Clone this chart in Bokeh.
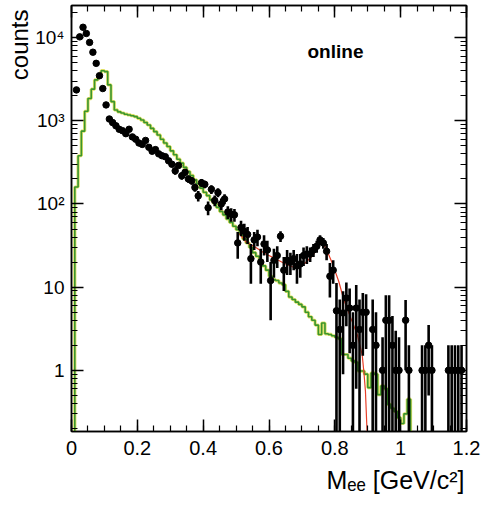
import numpy as np
from bokeh.plotting import figure
from bokeh.models import (FixedTicker, CustomJSTickFormatter, LinearAxis, LogAxis,
                          Label, ColumnDataSource, Range1d, Title)
from bokeh.embed import file_html
from bokeh.resources import INLINE

# ---------------- data ----------------
mass = [0.015, 0.025, 0.035, 0.045, 0.055, 0.065, 0.075, 0.085, 0.095, 0.105,
        0.115, 0.125, 0.135, 0.145, 0.155, 0.165, 0.175, 0.185, 0.195, 0.205,
        0.215, 0.225, 0.235, 0.245, 0.255, 0.265, 0.275, 0.285, 0.295, 0.305,
        0.315, 0.325, 0.335, 0.345, 0.355, 0.365, 0.375, 0.385, 0.395, 0.405,
        0.415, 0.425, 0.435, 0.445, 0.455, 0.465, 0.475, 0.485, 0.495, 0.505,
        0.515, 0.525, 0.535, 0.545, 0.555, 0.565, 0.575, 0.585, 0.595, 0.605,
        0.615, 0.625, 0.635, 0.645, 0.655, 0.665, 0.675, 0.685, 0.695, 0.705,
        0.715, 0.725, 0.735, 0.745, 0.755, 0.765, 0.775, 0.785, 0.795, 0.805,
        0.815, 0.825, 0.835, 0.845, 0.855, 0.865, 0.875, 0.885, 0.895, 0.915,
        0.925, 0.945, 0.955, 0.965, 0.975, 0.985, 0.995, 1.015, 1.025, 1.065,
        1.075, 1.085, 1.095, 1.145, 1.155, 1.165, 1.175, 1.185]
counts = [2350, 10200, 13300, 11200, 8750, 6670, 4900, 3480, 2440, 1550,
          1050, 950, 870, 790, 760, 700, 790, 640, 600, 540,
          520, 580, 480, 430, 450, 400, 380, 370, 330, 300,
          250, 290, 218, 240, 200, 190, 158, 125, 180, 172,
          90, 150, 110, 137, 100, 115, 80, 75, 74, 34,
          52, 47, 43, 22, 37, 40, 20, 33, 28, 12,
          21, 24, 41, 16, 21, 20, 22, 18, 19, 24,
          25, 25, 28, 31, 37, 34, 27, 13.5, 16, 5.2,
          3.1, 4.9, 7.4, 5.6, 2.0, 5.6, 3.1, 5.0, 5.0, 3.1,
          2.0, 1, 4, 4, 2, 1, 1, 4, 1, 1,
          1, 2, 1, 1, 1, 1, 1, 1]
errors = [40, 100, 115, 105, 95, 80, 70, 60, 50, 40,
          35, 30, 30, 30, 30, 28, 30, 28, 26, 25,
          25, 26, 24, 22, 23, 22, 22, 22, 22, 22,
          25, 22, 22, 22, 20, 20, 18, 18, 20, 18,
          17, 18, 16, 17, 16, 16, 14, 14, 13, 12,
          11, 11, 10, 11, 9, 9, 9, 9, 8, 8,
          8, 7, 6, 7, 7, 6, 6, 7, 6, 6,
          6, 5, 5, 5, 5, 5, 6, 6, 5, 6,
          4, 4, 4, 4, 3, 5, 4, 3.5, 3.2, 4,
          3, 1.5, 4, 4, 2.5, 2, 1.5, 3, 1, 1,
          1, 1.5, 1, 1, 1, 1, 1, 1]

# simulated cocktail histogram (green), 0.01 GeV bins from 0 to 1.2
hist_values = [0, 160, 380, 750, 1300, 1850, 2400, 3100, 3600, 4000,
               3900, 2700, 1700, 1350, 1280, 1240, 1200, 1175, 1150, 1120,
               1070, 1020, 955, 890, 810, 740, 675, 600, 540, 490,
               435, 390, 345, 310, 275, 245, 220, 195, 175, 155,
               138, 126, 112, 102, 91, 81, 74, 66, 60, 54,
               49, 44, 38, 34, 30, 26, 23.5, 21, 18, 16,
               13.5, 12.3, 12, 11.2, 10.7, 8.9, 7.6, 7.1, 6.6, 6.2,
               5.8, 5.0, 4.4, 4.0, 3.5, 2.7, 3.7, 2.75, 2.7, 2.6,
               2.5, 2.4, 1.55, 1.55, 1.4, 1.3, 1.25, 0.98, 0.98, 0.9,
               0.62, 0.93, 0.9, 0.51, 0.65, 0.6, 0.39, 0.35, 0.32, 0.27,
               0.23, 0.30, 0.45, 0, 0, 0, 0, 0, 0, 0,
               0, 0, 0, 0, 0, 0, 0, 0, 0, 0]
hist_bin_width = 0.01

# fit curve (red)
fit_x = [0.51, 0.53, 0.56, 0.59, 0.62, 0.65, 0.68, 0.71, 0.735, 0.75, 0.762,
         0.777, 0.792, 0.812, 0.827, 0.848, 0.868, 0.883, 0.888, 0.893, 0.898]
fit_y = [44, 35, 30, 25, 22, 19, 17, 19.5, 24.5, 31.6, 35.5,
         27, 19.5, 11.7, 7.1, 4.3, 2.7, 1.55, 0.98, 0.56, 0.18]

x_ticks = [0, 0.2, 0.4, 0.6, 0.8, 1.0, 1.2]
y_ticks = [1, 10, 100, 1000, 10000]

# ---------------- figure ----------------
YMIN, YMAX = 0.184, 24300
p = figure(width=483, height=506, x_range=Range1d(0, 1.2), y_range=Range1d(YMIN, YMAX),
           y_axis_type="log", output_backend="svg", toolbar_location=None,
           min_border_left=71, min_border_right=17, min_border_top=5, min_border_bottom=75)
p.grid.visible = False
p.outline_line_color = "black"
p.outline_line_width = 1.5
p.background_fill_color = "white"
p.border_fill_color = "white"

font = "Liberation Sans"
x_minor = [round(0.05 * i, 2) for i in range(25)]
y_minor = [m * 10.0 ** e for e in range(-1, 5) for m in range(2, 10)]
xt = FixedTicker(ticks=x_ticks, minor_ticks=x_minor)
yt = FixedTicker(ticks=y_ticks, minor_ticks=y_minor)

xfmt = CustomJSTickFormatter(code="""
if (Math.abs(tick) < 1e-9) return "0";
if (Math.abs(tick - 1) < 1e-9) return "1";
return tick.toFixed(1);
""")
yfmt = CustomJSTickFormatter(code="""
const e = Math.round(Math.log10(tick));
if (e == 0) return "1";
if (e == 1) return "10";
const sup = {2: "\\u00b2", 3: "\\u00b3", 4: "\\u2074"};
return "10" + sup[e];
""")
blank = CustomJSTickFormatter(code='return "";')

def style_axis(ax):
    ax.major_tick_in = 12
    ax.major_tick_out = 0
    ax.minor_tick_in = 6
    ax.minor_tick_out = 0
    ax.axis_line_width = 1.5
    ax.major_tick_line_width = 1.5
    ax.minor_tick_line_width = 1.2
    ax.axis_line_color = "black"
    ax.major_tick_line_color = "black"
    ax.minor_tick_line_color = "black"

for ax in p.xaxis:
    ax.ticker = xt
    ax.formatter = xfmt
    style_axis(ax)
    ax.major_label_text_font = font
    ax.major_label_text_font_size = "20px"
    ax.major_label_text_color = "black"
    ax.major_label_standoff = 9
for ax in p.yaxis:
    ax.ticker = yt
    ax.formatter = yfmt
    style_axis(ax)
    ax.major_label_text_font = font
    ax.major_label_text_font_size = "19px"
    ax.major_label_text_color = "black"
    ax.major_label_standoff = 7

top = LinearAxis(ticker=FixedTicker(ticks=x_ticks, minor_ticks=x_minor), formatter=blank,
                 major_label_standoff=0)
style_axis(top)
p.add_layout(top, "above")
right = LogAxis(ticker=FixedTicker(ticks=y_ticks, minor_ticks=y_minor), formatter=blank,
                major_label_standoff=0)
style_axis(right)
p.add_layout(right, "right")

# axis titles (side titles so they sit outside the frame)
p.add_layout(Title(text="counts", align="right", text_font=font, text_font_size="24px",
                   text_font_style="normal", text_color="black", standoff=0, offset=4), "left")
p.add_layout(Title(text="M\u2091\u2091 [GeV/c\u00b2]", align="right", text_font=font,
                   text_font_size="25px", text_font_style="normal", text_color="black",
                   standoff=12, offset=2), "below")

# ---------------- green histogram ----------------
edges = np.round(np.arange(len(hist_values) + 1) * hist_bin_width, 3)
hv = np.array(hist_values, dtype=float)
hv_plot = np.where(hv > 0, hv, 1e-3)
step_y = np.append(hv_plot, hv_plot[-1])
p.step(edges, step_y, mode="after", line_color="#d8d840", line_width=3.2, line_alpha=0.8)
p.step(edges, step_y, mode="after", line_color="#3a952f", line_width=1.6)

# ---------------- red fit ----------------
p.line(fit_x, fit_y, line_color="#e8402a", line_width=1.2)

# ---------------- data points ----------------
m = np.array(mass)
c = np.array(counts, dtype=float)
e = np.array(errors, dtype=float)
lo = np.where(c - e > 0, c - e, 1e-3)
hi = c + e
src = ColumnDataSource(dict(x=m, y=c, lo=lo, hi=hi, xl=m - 0.005, xr=m + 0.005))
p.segment(x0="x", y0="lo", x1="x", y1="hi", source=src, line_color="black", line_width=2.6)
p.segment(x0="xl", y0="y", x1="xr", y1="y", source=src, line_color="black", line_width=2.2)
p.scatter("x", "y", source=src, size=6.5, color="black")

# in-frame label (frame-relative screen units)
p.add_layout(Label(x=236, y=380, x_units="screen", y_units="screen", text="online",
                   text_font=font, text_font_size="19px", text_font_style="bold",
                   text_color="black", text_baseline="alphabetic"))

open("out.html", "w").write(file_html(p, INLINE))
